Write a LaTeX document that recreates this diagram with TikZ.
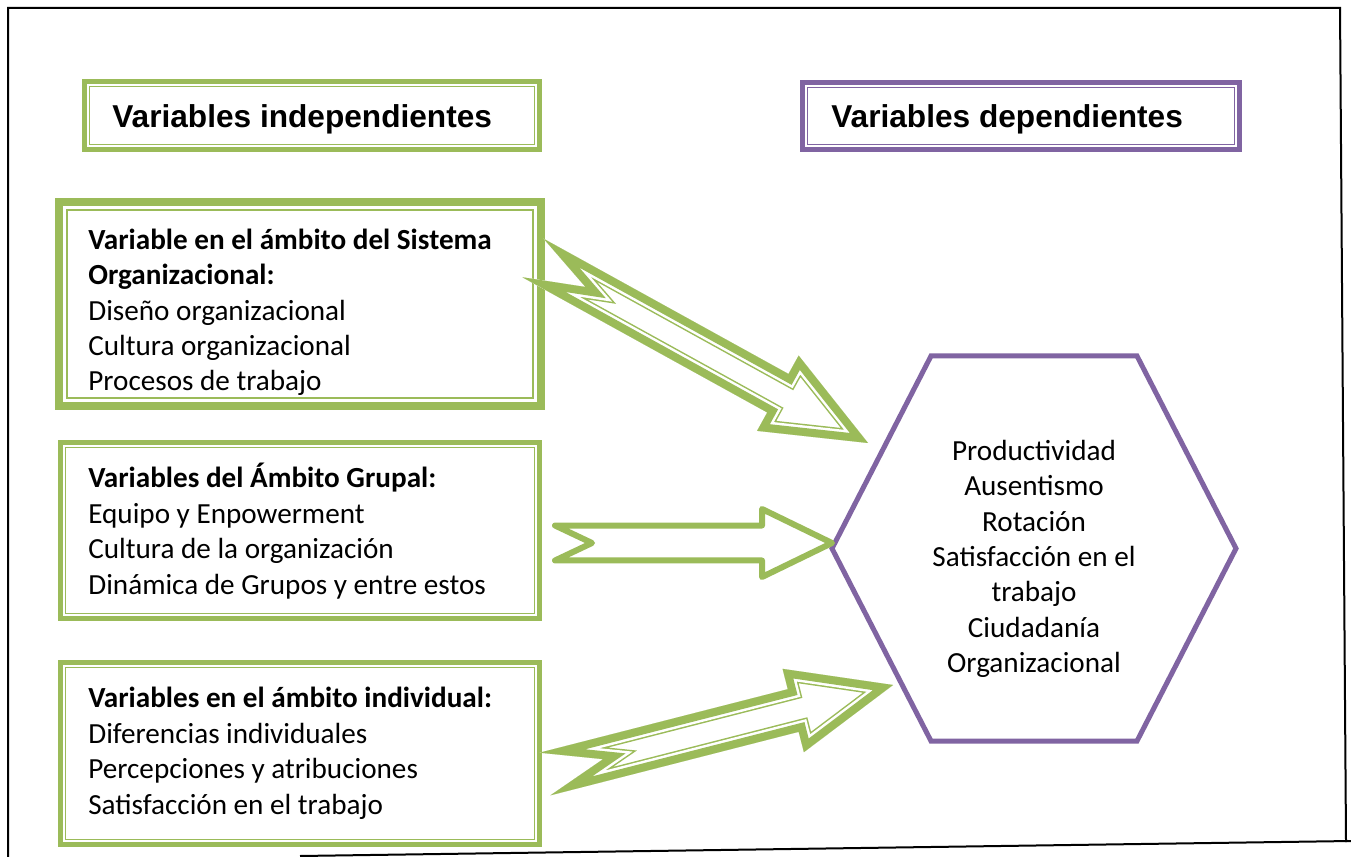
\documentclass[tikz,border=0pt]{standalone}
\usepackage{fontspec}
\newfontfamily\cuerpo{Carlito}
\newfontfamily\titulo{Liberation Sans}
\usetikzlibrary{calc}
\definecolor{verde}{RGB}{155,187,89}
\definecolor{morado}{RGB}{128,100,162}
\def\pix{0.02cm}
% contorno de una flecha de bloque con muesca: cola, punta, medio ancho del cuerpo,
% medio ancho de la cabeza, largo de la cabeza, profundidad de la muesca
\newcommand{\formaflecha}[6]{%
  \coordinate (#1-base) at ($(#2)!#5!(#1)$);
  \coordinate (#1-muesca) at ($(#1)!#6!(#2)$);
  \def\contorno{($(#1)!#3!90:(#2)$) -- ($(#1-base)!#3!90:(#2)$) -- ($(#1-base)!#4!90:(#2)$)
    -- (#2) -- ($(#1-base)!#4!-90:(#2)$) -- ($(#1-base)!#3!-90:(#2)$) -- ($(#1)!#3!-90:(#2)$)
    -- (#1-muesca) -- cycle}}
% flecha con borde grueso y filete interior
\newcommand{\flechadoble}[2]{%
  \formaflecha{#1}{#2}{.44cm}{.86cm}{2.06cm}{1.2cm}
  \begin{scope}
    \clip \contorno;
    \fill[white] \contorno;
    \draw[verde, line width=24*\pix] \contorno;
    \draw[white, line width=21*\pix] \contorno;
    \draw[verde, line width=16*\pix] \contorno;
  \end{scope}}

\begin{document}
\begin{tikzpicture}[
  x=0.02cm, y=-0.02cm,
  line join=miter, miter limit=25,
  marco/.style={draw=black, line width=2*\pix},
  cajaTitulo/.style={line width=5*\pix, outer sep=0pt, inner sep=0pt},
  caja/.style={draw=verde, outer sep=0pt, inner sep=0pt},
  filete/.style={line width=1.3*\pix},
  encabezado/.style={font=\titulo\bfseries\fontsize{18}{22}\selectfont, inner sep=0pt},
  texto/.style={font=\cuerpo\fontsize{16.6}{20.2}\selectfont, align=left, inner sep=0pt},
  lista/.style={font=\cuerpo\fontsize{16.6}{20.1}\selectfont, align=center, inner sep=0pt},
  hexa/.style={draw=morado, line width=5*\pix},
  flechaSimple/.style={draw=verde, line width=6*\pix, line join=round}
]
\useasboundingbox (0,0) rectangle (1351,857);
\fill[white] (0,0) rectangle (1351,857);
% marco de la pagina
\draw[marco] (8,857) -- (8,8) -- (1340,8) -- (1346,842);
\draw[marco] (300,856) -- (1351,841);

% titulos
\node[cajaTitulo, draw=verde, minimum width=455*\pix, minimum height=68*\pix] (indep) at (312,115.5) {};
\draw[verde, filete] ($(indep.north west)+(5.2,5.2)$) rectangle ($(indep.south east)-(5.2,5.2)$);
\node[encabezado, anchor=base west] (indepTxt) at (112,128) {Variables independientes};
\node[cajaTitulo, draw=morado, minimum width=437*\pix, minimum height=67*\pix] (dep) at (1021,116) {};
\draw[morado, filete] ($(dep.north west)+(5.2,5.2)$) rectangle ($(dep.south east)-(5.2,5.2)$);
\node[encabezado, anchor=base west] (depTxt) at (831,128) {Variables dependientes};

% cajas de variables independientes (texto anclado en la linea base de su ultima linea)
\node[caja, line width=8*\pix, minimum width=482*\pix, minimum height=204*\pix] (sistema) at (300,304) {};
\draw[verde, line width=2*\pix] ($(sistema.north west)+(7.8,7.8)$) rectangle ($(sistema.south east)-(7.8,7.8)$);
\node[texto, anchor=base west] (sistemaTxt) at (88,391)
  {\bfseries Variable en el ámbito del Sistema\\ \bfseries Organizacional:\\
   Diseño organizacional\\Cultura organizacional\\Procesos de trabajo};

\node[caja, line width=5*\pix, minimum width=479*\pix, minimum height=176*\pix] (grupal) at (300,530.5) {};
\draw[verde, filete] ($(grupal.north west)+(5.2,5.2)$) rectangle ($(grupal.south east)-(5.2,5.2)$);
\node[texto, anchor=base west] (grupalTxt) at (88,594)
  {\bfseries Variables del Ámbito Grupal:\\Equipo y Enpowerment\\
   Cultura de la organización\\Dinámica de Grupos y entre estos};

\node[caja, line width=5*\pix, minimum width=479*\pix, minimum height=182*\pix] (individual) at (300,753.5) {};
\draw[verde, filete] ($(individual.north west)+(5.2,5.2)$) rectangle ($(individual.south east)-(5.2,5.2)$);
\node[texto, anchor=base west] (individualTxt) at (88,814)
  {\bfseries Variables en el ámbito individual:\\Diferencias individuales\\
   Percepciones y atribuciones\\Satisfacción en el trabajo};

% hexagono de variables dependientes
\coordinate (hex) at (1034,548.5);
\draw[hexa] ($(hex)+(-103,-192.5)$) -- ($(hex)+(103,-192.5)$) -- ($(hex)+(202,0)$)
  -- ($(hex)+(103,192.5)$) -- ($(hex)+(-103,192.5)$) -- ($(hex)+(-202,0)$) -- cycle;
\node[lista] (resultados) at (1034,559)
  {Productividad\\Ausentismo\\Rotación\\Satisfacción en el\\trabajo\\Ciudadanía\\Organizacional};

% flechas
\coordinate (c1) at (533,258);
\coordinate (p1) at (868,443);
\coordinate (c2) at (555,543);
\coordinate (p2) at (832,543);
\coordinate (c3) at (545,774);
\coordinate (p3) at (893,685);
\flechadoble{c1}{p1}
\formaflecha{c2}{p2}{.35cm}{.68cm}{1.4cm}{.74cm}
\draw[flechaSimple] \contorno;
\flechadoble{c3}{p3}
\end{tikzpicture}
\end{document}
